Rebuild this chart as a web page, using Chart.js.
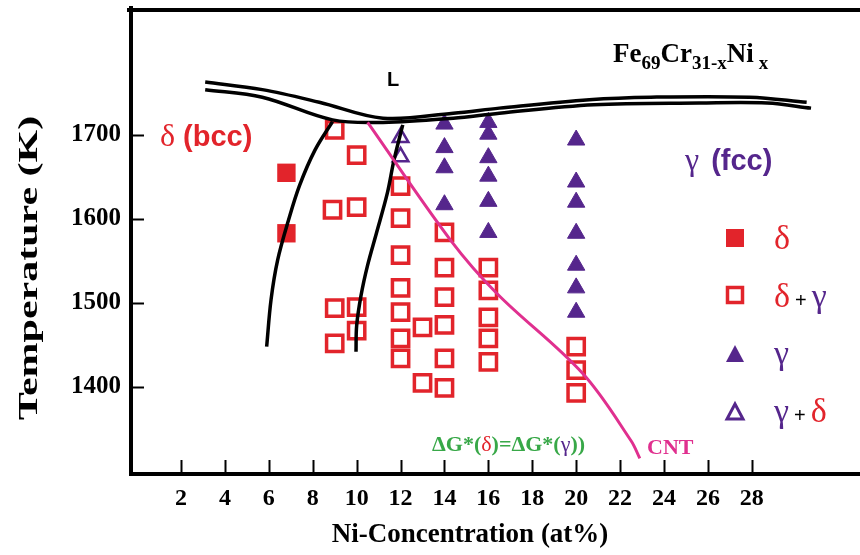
<!DOCTYPE html>
<html>
<head>
<meta charset="utf-8">
<script src="https://cdn.jsdelivr.net/npm/chart.js@4.4.1/dist/chart.umd.min.js"></script>
<style>
html, body { margin: 0; padding: 0; background: #fff; overflow: hidden; }
canvas { display: block; }
</style>
</head>
<body>
<canvas id="phaseChart" width="860" height="555"></canvas>
<script>
var xTicks = [2, 4, 6, 8, 10, 12, 14, 16, 18, 20, 22, 24, 26, 28];
var yTicks = [1400, 1500, 1600, 1700];

// delta (filled squares)
var deltaNi = [6.8, 6.8];
var deltaT = [1655, 1583];

// delta + gamma (open squares)
var mixNi = [9, 10, 8.9, 10, 9, 9, 10, 10, 12, 12, 12, 12, 12, 12, 12, 13, 13, 14, 14, 14, 14, 14, 14, 16, 16, 16, 16, 16, 20, 20, 20];
var mixT = [1706, 1676, 1611, 1614, 1494, 1452, 1495, 1467, 1639, 1601, 1557, 1518, 1489, 1458, 1434, 1471, 1405, 1584, 1542, 1507, 1474, 1434, 1399, 1542, 1515, 1483, 1458, 1430, 1448, 1420, 1393];

// gamma (filled triangles)
var gammaNi = [14, 14, 14, 14, 16, 16, 16, 16, 16, 16, 20, 20, 20, 20, 20, 20, 20];
var gammaT = [1713, 1685, 1661, 1617, 1715, 1701, 1673, 1651, 1621, 1584, 1694, 1644, 1620, 1583, 1545, 1518, 1489];

// gamma + delta (open triangles)
var gdNi = [12, 12];
var gdT = [1697, 1674];

// phase boundaries
var liqUpperNi = [3.1, 5.7, 8.3, 11.2, 14.4, 16.5, 20.6, 23.4, 27.9, 30.5];
var liqUpperT = [1763, 1754, 1739, 1720, 1726, 1732, 1742, 1745, 1745, 1739];
var liqLowerNi = [3.1, 5.7, 8.9, 11.2, 14.4, 16.5, 20.8, 25.6, 28.7, 30.7];
var liqLowerT = [1754, 1745, 1718, 1715, 1720, 1726, 1736, 1738, 1738, 1732];
var deltaBoundNi = [8.9, 8.1, 7.4, 6.9, 6.4, 6.1, 5.9];
var deltaBoundT = [1716, 1682, 1640, 1599, 1551, 1504, 1448];
var gammaBoundNi = [12.1, 11.7, 11.4, 10.9, 10.5, 10.2, 10.0, 9.97];
var gammaBoundT = [1712, 1670, 1631, 1583, 1545, 1509, 1473, 1442];
var cntNi = [10.5, 14.3, 16.4, 20.3, 22.5, 22.9];
var cntT = [1715, 1574, 1511, 1416, 1336, 1315];

var red = "#e2242b";
var purple = "#55268c";
var magenta = "#e0308f";
var green = "#38a848";

function pts(xs, ys) {
    return xs.map(function (x, i) { return { x: x, y: ys[i] }; });
}

function curve(xs, ys, color, width) {
    return {
        type: "line",
        data: pts(xs, ys),
        showLine: true,
        borderColor: color,
        borderWidth: width,
        pointRadius: 0,
        tension: 0.35,
        fill: false
    };
}

function runs(ctx, list, x, y) {
    // list of [text, font, color, dy, gapAfter]
    list.forEach(function (r) {
        ctx.font = r[1];
        ctx.fillStyle = r[2];
        ctx.fillText(r[0], x, y + (r[3] || 0));
        x += ctx.measureText(r[0]).width + (r[4] || 0);
    });
}

var framePlugin = {
    id: "frame",
    afterDraw: function (chart) {
        var ctx = chart.ctx;
        var a = chart.chartArea;
        var xs = chart.scales.x, ys = chart.scales.y;
        ctx.save();
        // top border
        ctx.strokeStyle = "#000";
        ctx.lineWidth = 4;
        ctx.beginPath();
        ctx.moveTo(a.left - 4, a.top + 2);
        ctx.lineTo(a.right, a.top + 2);
        ctx.stroke();
        // inward ticks
        ctx.lineWidth = 2;
        xTicks.forEach(function (v) {
            var px = Math.round(xs.getPixelForValue(v)) + 0.5;
            ctx.beginPath();
            ctx.moveTo(px, a.bottom);
            ctx.lineTo(px, a.bottom - 14);
            ctx.stroke();
        });
        yTicks.forEach(function (v) {
            var py = Math.round(ys.getPixelForValue(v)) + 0.5;
            ctx.beginPath();
            ctx.moveTo(a.left, py);
            ctx.lineTo(a.left + 13, py);
            ctx.stroke();
        });

        // axis titles
        ctx.textBaseline = "middle";
        ctx.textAlign = "center";
        ctx.fillStyle = "#000";
        ctx.font = "bold 27px 'Liberation Serif'";
        ctx.fillText("Ni-Concentration (at%)", 470, 535);
        ctx.save();
        ctx.translate(30, 268);
        ctx.rotate(-Math.PI / 2);
        ctx.scale(1.5, 1);
        ctx.font = "bold 28px 'Liberation Serif'";
        ctx.fillText("Temperature (K)", 0, 0);
        ctx.restore();

        ctx.textAlign = "left";
        ctx.textBaseline = "alphabetic";
        // L
        ctx.font = "bold 20px 'Liberation Sans'";
        ctx.fillStyle = "#000";
        ctx.fillText("L", 387, 86);

        // Formula
        var fm = "bold 27px 'Liberation Serif'", fs = "bold 19px 'Liberation Serif'";
        runs(ctx, [
            ["Fe", fm, "#000", 0],
            ["69", fs, "#000", 7],
            ["Cr", fm, "#000", 0],
            ["31-x", fs, "#000", 7],
            ["Ni", fm, "#000", 0, 5],
            ["x", fs, "#000", 7]
        ], 613, 62);

        // region labels
        runs(ctx, [
            ["\u03b4", "32px 'Liberation Serif'", red, 0, 8],
            ["(bcc)", "bold 29px 'Liberation Sans'", red, 0]
        ], 160, 146);
        runs(ctx, [
            ["\u03b3", "32px 'Liberation Serif'", purple, 0, 12],
            ["(fcc)", "bold 29px 'Liberation Sans'", purple, 0]
        ], 685, 170);

        // legend
        ctx.fillStyle = red;
        ctx.fillRect(726, 229, 18, 18);
        ctx.strokeStyle = red;
        ctx.lineWidth = 3.5;
        ctx.strokeRect(727.5, 287.5, 15, 15);
        ctx.fillStyle = purple;
        ctx.beginPath();
        ctx.moveTo(735, 345); ctx.lineTo(744, 362); ctx.lineTo(726, 362);
        ctx.closePath(); ctx.fill();
        ctx.strokeStyle = purple;
        ctx.lineWidth = 3;
        ctx.beginPath();
        ctx.moveTo(735, 404); ctx.lineTo(743, 419); ctx.lineTo(727, 419);
        ctx.closePath(); ctx.stroke();

        var big = "34px 'Liberation Serif'";
        var plus = "20px 'Liberation Sans'";
        runs(ctx, [["\u03b4", big, red, 0]], 774, 249);
        runs(ctx, [["\u03b4", big, red, 0, 5], ["+", plus, "#000", 0, 5], ["\u03b3", big, purple, 0]], 774, 307);
        runs(ctx, [["\u03b3", big, purple, 0]], 774, 364);
        runs(ctx, [["\u03b3", big, purple, 0, 5], ["+", plus, "#000", 0, 5], ["\u03b4", big, red, 0]], 774, 422);

        // delta G label
        var g = "bold 22px 'Liberation Serif'";
        var gr = "22px 'Liberation Serif'";
        runs(ctx, [
            ["\u0394G*(", g, green, 0],
            ["\u03b4", gr, red, 0],
            [")=\u0394G*(", g, green, 0],
            ["\u03b3", gr, purple, 0],
            ["))", g, green, 0]
        ], 432, 451);

        ctx.font = "bold 22px 'Liberation Serif'";
        ctx.fillStyle = magenta;
        ctx.fillText("CNT", 647, 454);
        ctx.restore();
    }
};

new Chart("phaseChart", {
    type: "scatter",
    data: {
        datasets: [
            curve(cntNi, cntT, magenta, 3),
            curve(liqUpperNi, liqUpperT, "#000", 3.5),
            curve(liqLowerNi, liqLowerT, "#000", 3.5),
            curve(deltaBoundNi, deltaBoundT, "#000", 3.5),
            curve(gammaBoundNi, gammaBoundT, "#000", 3.5),
            {
                label: "delta",
                data: pts(deltaNi, deltaT),
                pointStyle: "rect",
                pointRadius: 13,
                backgroundColor: red,
                borderColor: red,
                borderWidth: 0
            },
            {
                label: "delta+gamma",
                data: pts(mixNi, mixT),
                pointStyle: "rect",
                pointRadius: 11.5,
                backgroundColor: "#fff",
                borderColor: red,
                borderWidth: 3.5
            },
            {
                label: "gamma",
                data: pts(gammaNi, gammaT),
                pointStyle: "triangle",
                pointRadius: 10,
                backgroundColor: purple,
                borderColor: purple,
                borderWidth: 1
            },
            {
                label: "gamma+delta",
                data: pts(gdNi, gdT),
                pointStyle: "triangle",
                pointRadius: 9,
                backgroundColor: "#fff",
                borderColor: purple,
                borderWidth: 2.5
            }
        ]
    },
    options: {
        responsive: false,
        animation: false,
        layout: { autoPadding: false, padding: { top: 8, right: 0, left: 0, bottom: 0 } },
        plugins: {
            legend: { display: false },
            tooltip: { enabled: false }
        },
        scales: {
            x: {
                type: "linear",
                min: -0.28,
                max: 32.93,
                afterFit: function (scale) {
                    scale.height = 81;
                    scale.paddingLeft = 0;
                    scale.paddingRight = 0;
                },
                afterBuildTicks: function (scale) {
                    scale.ticks = xTicks.map(function (v) { return { value: v }; });
                },
                grid: { display: false, drawTicks: false },
                border: { display: true, color: "#000", width: 4 },
                ticks: {
                    color: "#000",
                    padding: 10,
                    maxRotation: 0,
                    autoSkip: false,
                    font: { family: "'Liberation Serif'", size: 24, weight: "bold" }
                }
            },
            y: {
                type: "linear",
                min: 1296.4,
                max: 1851.2,
                afterFit: function (scale) {
                    scale.width = 131;
                    scale.paddingTop = 0;
                    scale.paddingBottom = 0;
                },
                afterBuildTicks: function (scale) {
                    scale.ticks = yTicks.map(function (v) { return { value: v }; });
                },
                grid: { display: false, drawTicks: false },
                border: { display: true, color: "#000", width: 4 },
                ticks: {
                    color: "#000",
                    padding: 10,
                    callback: function (v) { return String(v); },
                    font: { family: "'Liberation Serif'", size: 25, weight: "bold" }
                }
            }
        }
    },
    plugins: [framePlugin]
});
</script>
</body>
</html>
